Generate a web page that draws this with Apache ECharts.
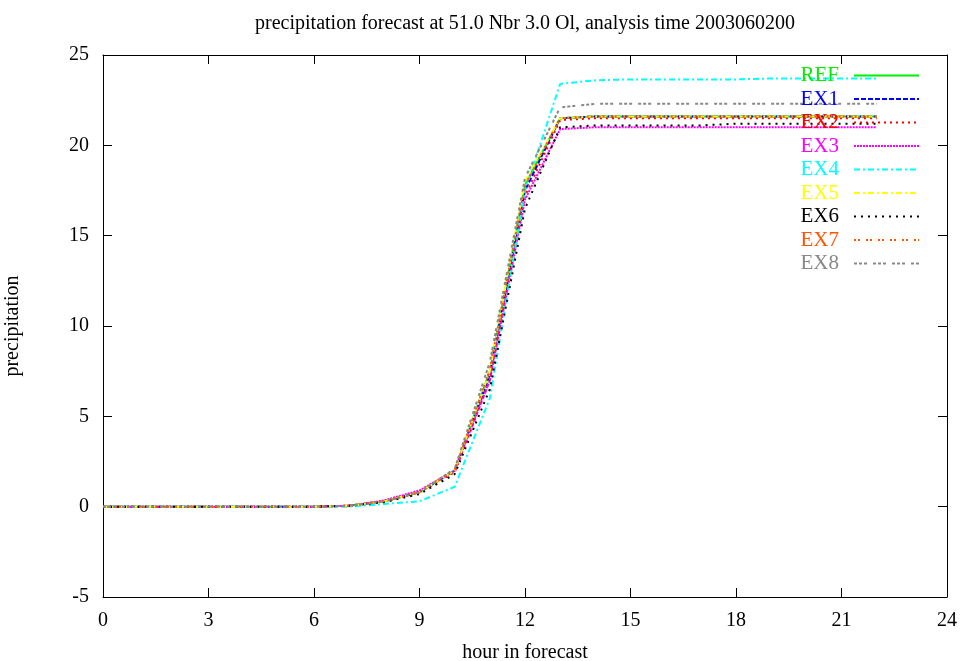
<!DOCTYPE html>
<html>
<head>
<meta charset="utf-8">
<script src="https://cdn.jsdelivr.net/npm/echarts@6/dist/echarts.min.js"></script>
<style>
  html, body { margin: 0; padding: 0; background: #fff; }
  #chart { width: 960px; height: 661px; }
</style>
</head>
<body>
<div id="chart"></div>
<script>
// forecast hours
var hours = [0,1,2,3,4,5,6,7,8,9,10,11,12,13,14,15,16,17,18,19,20,21,22];

// accumulated precipitation per member
var refData = [0,0,0,0,0,0,0,0.05,0.3,0.8,2.0,7.5,17.8,21.5,21.6,21.6,21.6,21.6,21.6,21.6,21.6,21.6,21.6];
var ex1Data = [0,0,0,0,0,0,0,0.05,0.3,0.8,2.0,7.3,17.5,21.5,21.6,21.6,21.6,21.6,21.6,21.6,21.6,21.6,21.6];
var ex2Data = [0,0,0,0,0,0,0,0.05,0.3,0.8,1.9,7.0,17.2,21.4,21.5,21.5,21.5,21.5,21.5,21.5,21.5,21.5,21.5];
var ex3Data = [0,0,0,0,0,0,0,0.05,0.35,0.9,2.0,7.0,17.0,20.9,21.0,21.0,21.0,21.0,21.0,21.0,21.0,21.0,21.0];
var ex4Data = [0,0,0,0,0,0,0,0,0.15,0.3,1.1,6.0,17.5,23.4,23.6,23.65,23.65,23.65,23.65,23.7,23.7,23.7,23.7];
var ex5Data = [0,0,0,0,0,0,0,0.05,0.3,0.8,2.0,7.5,18.0,21.5,21.6,21.6,21.6,21.6,21.6,21.6,21.6,21.6,21.6];
var ex6Data = [0,0,0,0,0,0,0,0.05,0.25,0.7,1.8,6.5,16.5,21.0,21.1,21.1,21.1,21.1,21.2,21.2,21.2,21.2,21.2];
var ex7Data = [0,0,0,0,0,0,0,0.05,0.3,0.8,2.0,7.6,17.8,21.5,21.6,21.6,21.6,21.6,21.6,21.6,21.6,21.6,21.6];
var ex8Data = [0,0,0,0,0,0,0,0.05,0.3,0.8,2.1,8.0,18.2,22.1,22.3,22.3,22.3,22.3,22.3,22.3,22.3,22.3,22.3];

var names = ['REF','EX1','EX2','EX3','EX4','EX5','EX6','EX7','EX8'];
var colors = ['#00ee00','#0000ff','#ff0000','#ff00ff','#00ffff','#ffff00','#000000','#ff5500','#888888'];
var dashes = ['solid',[5,2],[2,4],[2,1],[6,3,2,3],[6,3,2,3],[2,5],[2,2,2,6],[3,2,3,2,3,6]];
var allData = [refData,ex1Data,ex2Data,ex3Data,ex4Data,ex5Data,ex6Data,ex7Data,ex8Data];

var serif = 'Liberation Serif';
var chart = echarts.init(document.getElementById('chart'));

var series = names.map(function (n, i) {
    return {
        name: n,
        type: 'line',
        symbol: 'none',
        data: hours.map(function (h, k) { return [h, allData[i][k]]; }),
        lineStyle: { color: colors[i], width: 2, type: dashes[i] },
        itemStyle: { color: colors[i] }
    };
});

// frame axes: ticks drawn inward, gnuplot-like
function frameAxis(extra) {
    var a = {
        type: 'value',
        axisLine: { show: true, onZero: false, lineStyle: { color: '#000', width: 1 } },
        axisTick: { show: true, inside: true, length: 9, lineStyle: { color: '#000', width: 1 } },
        splitLine: { show: false }
    };
    return Object.assign(a, extra);
}

var option = {
    animation: false,
    backgroundColor: '#fff',
    title: {
        text: 'precipitation forecast at 51.0 Nbr 3.0 Ol, analysis time 2003060200',
        left: 520, top: 9, textAlign: 'center',
        textStyle: { fontFamily: serif, fontSize: 20, fontWeight: 'normal', color: '#000' }
    },
    legend: {
        orient: 'vertical',
        right: 35, top: 60,
        align: 'right',
        itemWidth: 65, itemHeight: 12, itemGap: 2.5,
        itemStyle: { color: 'transparent', borderColor: 'transparent' },
        data: names.map(function (n, i) {
            return { name: n, textStyle: { color: colors[i] } };
        }),
        textStyle: { fontFamily: serif, fontSize: 21, padding: [0, 10, 0, 0] }
    },
    grid: { left: 103, right: 13, top: 55, bottom: 64, outerBoundsMode: 'none' },
    xAxis: [
        frameAxis({
            min: 0, max: 24, interval: 3, position: 'bottom',
            name: 'hour in forecast', nameLocation: 'middle', nameGap: 46,
            nameTextStyle: { fontFamily: serif, fontSize: 20, color: '#000' },
            axisLabel: { fontFamily: serif, fontSize: 20, color: '#000', margin: 14 }
        }),
        frameAxis({
            min: 0, max: 24, interval: 3, position: 'top',
            axisLabel: { show: false }
        })
    ],
    yAxis: [
        frameAxis({
            min: -5, max: 25, interval: 5, position: 'left',
            name: 'precipitation', nameLocation: 'middle', nameGap: 80,
            nameTextStyle: { fontFamily: serif, fontSize: 20, color: '#000' },
            axisLabel: { fontFamily: serif, fontSize: 20, color: '#000', margin: 14 }
        }),
        frameAxis({
            min: -5, max: 25, interval: 5, position: 'right',
            axisLabel: { show: false }
        })
    ],
    series: series
};

chart.setOption(option);
</script>
</body>
</html>
